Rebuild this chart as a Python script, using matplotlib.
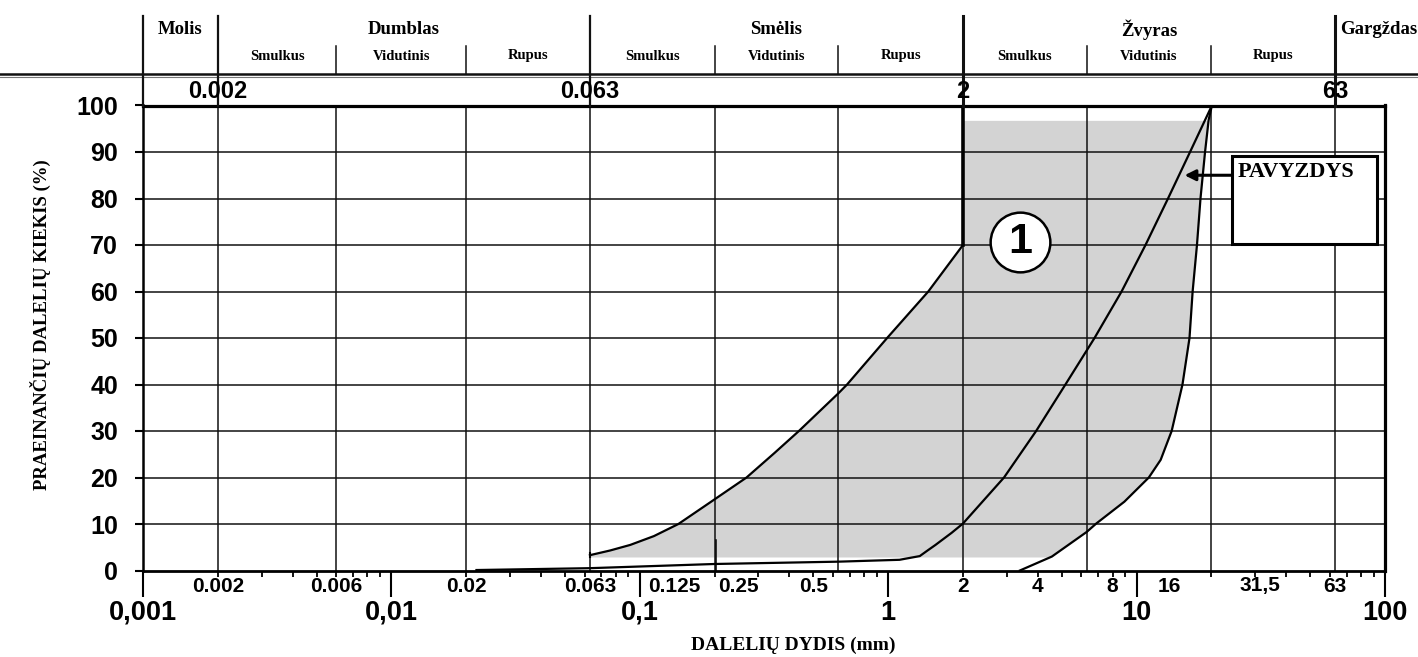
import numpy as np
import matplotlib
matplotlib.use("Agg")
import matplotlib.pyplot as plt
from matplotlib import transforms
from matplotlib.lines import Line2D
from matplotlib.patches import Rectangle
from matplotlib.ticker import FixedLocator, FixedFormatter, LogLocator, NullFormatter

# ---- data -----------------------------------------------------------
class_names = ['Molis', 'Dumblas', 'Smėlis', 'Žvyras']
class_bounds = [0.001, 0.002, 0.063, 2, 63]
sub_names = ['Smulkus', 'Vidutinis', 'Rupus']
sub_bounds = [0.002, 0.006, 0.02, 0.063, 0.2, 0.63, 2, 6.3, 20, 63]
last_class = 'Gargždas'

top_marks = [0.002, 0.063, 2, 63]
top_labels = ['0.002', '0.063', '2', '63']

major_ticks = [0.001, 0.01, 0.1, 1, 10, 100]
major_labels = ['0,001', '0,01', '0,1', '1', '10', '100']
small_ticks = [0.002, 0.006, 0.02, 0.063, 0.125, 0.25, 0.5, 2, 4, 8, 16, 31.5, 63]
small_labels = ['0.002', '0.006', '0.02', '0.063', '0.125', '0.25', '0.5',
                '2', '4', '8', '16', '31,5', '63']
small_shift = {0.125: 10, 16: -18}   # px, labels moved off the ticks in the original

y_ticks = list(range(0, 101, 10))

# envelope (zone 1) left/upper boundary
upper_x = [0.063, 0.0759, 0.0915, 0.114, 0.143, 0.2, 0.269, 0.349, 0.437, 0.63,
           0.683, 0.99, 1.45, 2.0]
upper_y = [3.3, 4.3, 5.5, 7.4, 10, 15.3, 20, 25.3, 30, 38.1,
           40, 50, 60, 70]
# envelope right/lower boundary
lower_x = [3.39, 4.56, 6.3, 6.88, 8.93, 11.2, 12.5, 13.84, 15.3, 16.33, 16.81, 17.5,
           18.08, 18.86, 19.5, 20.1]
lower_y = [0, 3, 8.3, 10.1, 14.8, 20, 23.8, 30, 40, 50, 60, 70,
           80, 90, 96.9, 100]
# sample curve (PAVYZDYS)
sample_x = [0.022, 0.063, 0.2, 0.63, 1.11, 1.34, 1.44, 1.55, 1.80, 2.0, 2.926, 3.94,
            5.17, 6.77, 8.70, 10.86, 13.38, 16.41, 20.1]
sample_y = [0.1, 0.5, 1.4, 1.9, 2.3, 3.1, 4.3, 5.5, 8.1, 10.1, 20, 30,
            40, 50, 60, 70, 80, 90, 100]
fill_top = 96.7
fill_bottom = 2.8
fill_corner_x = 4.5     # where the shaded band meets the right curve at the bottom

zone_label = '1'
zone_pos = (3.39, 70.7)
sample_name = 'PAVYZDYS'

# ---- figure ---------------------------------------------------------
W, H = 1418, 657
fig = plt.figure(figsize=(W / 100, H / 100), dpi=100)
ax_l, ax_r, ax_t, ax_b = 143, 1385, 105.5, 570.5
ax = fig.add_axes([ax_l / W, 1 - ax_b / H, (ax_r - ax_l) / W, (ax_b - ax_t) / H])

def fy(py):
    return 1 - py / H

ink = '#111111'
serif = ['Liberation Serif', 'DejaVu Serif']
sans = ['Liberation Sans', 'DejaVu Sans']

ax.set_xscale('log')
ax.set_xlim(0.001, 100)
ax.set_ylim(0, 100)

# shaded zone
fx = [upper_x[0]] + upper_x + [upper_x[-1]]
fyv = [fill_bottom] + upper_y + [fill_top]
for x, y in zip(lower_x[::-1], lower_y[::-1]):
    if fill_bottom <= y <= fill_top + 0.5:
        fx.append(x)
        fyv.append(min(y, fill_top))
fx.append(fill_corner_x)
fyv.append(fill_bottom)
ax.fill(fx, fyv, color='#d3d3d3', lw=0, zorder=1)

# grid
for v in sub_bounds:
    ax.axvline(v, color=ink, lw=1.1, zorder=2)
for v in y_ticks[1:-1]:
    ax.axhline(v, color=ink, lw=1.1, zorder=2)

# curves
ax.plot(upper_x, upper_y, color='black', lw=1.6, zorder=4, solid_joinstyle='round')
ax.plot(lower_x, lower_y, color='black', lw=1.6, zorder=4, solid_joinstyle='round')
ax.plot(sample_x, sample_y, color='black', lw=1.6, zorder=4, solid_joinstyle='round')
ax.plot([upper_x[-1], upper_x[-1]], [upper_y[-1], 100], color='black', lw=2.6, zorder=4)
ax.plot([upper_x[0], upper_x[0]], [fill_bottom, upper_y[0] + 0.5], color='black', lw=1.5, zorder=4)
ax.plot([0.203, 0.203], [0, 6.5], color='black', lw=1.1, zorder=4)

# zone marker
ax.plot([zone_pos[0]], [zone_pos[1]], marker='o', ms=43, mfc='white', mec='black',
        mew=1.8, zorder=5)
ax.text(zone_pos[0], zone_pos[1], zone_label, ha='center', va='center',
        fontsize=31, fontweight='bold', family=sans, zorder=6)

# sample label box + arrow
ax.add_patch(Rectangle((24.2, 70.2), 93 - 24.2, 89.1 - 70.2, fc='white', ec='black',
                       lw=2.2, zorder=5))
ax.text(25.6, 85.8, sample_name, ha='left', va='center', fontsize=16,
        fontweight='bold', family=serif, zorder=6)
ax.annotate('', xy=(15.6, 85.0), xytext=(24.2, 85.0), zorder=6,
            arrowprops=dict(arrowstyle='-|>', lw=2.2, color='black', mutation_scale=16,
                            shrinkA=0, shrinkB=0))

# spines and ticks
for s in ['top', 'right']:
    ax.spines[s].set_linewidth(2.3)
ax.spines['left'].set_linewidth(1.8)
ax.spines['bottom'].set_linewidth(2.0)
for s in ax.spines.values():
    s.set_zorder(7)

ax.yaxis.set_major_locator(FixedLocator(y_ticks))
ax.set_yticklabels([str(v) for v in y_ticks], fontsize=18, fontweight='bold', family=sans)
ax.tick_params(axis='y', direction='out', length=6, width=1.5, pad=12)

ax.xaxis.set_major_locator(FixedLocator(major_ticks))
ax.xaxis.set_major_formatter(FixedFormatter(major_labels))
ax.xaxis.set_minor_locator(LogLocator(base=10, subs=np.arange(2, 10)))
ax.xaxis.set_minor_formatter(NullFormatter())
ax.tick_params(axis='x', which='major', direction='out', length=19, width=1.5, pad=2)
ax.tick_params(axis='x', which='minor', direction='out', length=4, width=1.3)
for lab in ax.get_xticklabels():
    lab.set_fontsize(19.5)
    lab.set_fontweight('bold')
    lab.set_family(sans)

blend = transforms.blended_transform_factory(ax.transData, fig.transFigure)

# small size labels under the axis
for v, lab in zip(small_ticks, small_labels):
    tr = transforms.offset_copy(blend, fig=fig, x=small_shift.get(v, 0), y=0, units='dots')
    fig.text(v, fy(586), lab, transform=tr, ha='center', va='center', fontsize=15,
             fontweight='bold', family=sans)

# labels above the plot
for v, lab in zip(top_marks, top_labels):
    fig.text(v, fy(91), lab, transform=blend, ha='center', va='center', fontsize=17,
             fontweight='bold', family=sans)

# ---- header table -----------------------------------------------------
fig.add_artist(Line2D([0, 1], [fy(74), fy(74)], color=ink, lw=1.8))
fig.add_artist(Line2D([0, 1], [fy(77), fy(77)], color='#777777', lw=0.8))
for v in class_bounds:
    w = 2.2 if v >= 2 else 1.6
    fig.add_artist(Line2D([v, v], [fy(16), fy(ax_t)], transform=blend, color=ink, lw=w))
for v in sub_bounds:
    if v not in class_bounds:
        fig.add_artist(Line2D([v, v], [fy(46), fy(74)], transform=blend, color=ink, lw=1.1))

for i, name in enumerate(class_names):
    c = np.sqrt(class_bounds[i] * class_bounds[i + 1])
    fig.text(c, fy(30), name, transform=blend, ha='center', va='center', fontsize=13.5,
             fontweight='bold', family=serif)
tr = transforms.offset_copy(blend, fig=fig, x=5, y=0, units='dots')
fig.text(class_bounds[-1], fy(30), last_class, transform=tr, ha='left', va='center',
         fontsize=13.5, fontweight='bold', family=serif)

for i in range(len(sub_bounds) - 1):
    c = np.sqrt(sub_bounds[i] * sub_bounds[i + 1])
    fig.text(c, fy(56), sub_names[i % 3], transform=blend, ha='center', va='center',
             fontsize=10.5, fontweight='bold', family=serif)

# axis titles
fig.text(793 / W, fy(645), 'DALELIŲ DYDIS (mm)', ha='center', va='center', fontsize=14,
         fontweight='bold', family=serif)
fig.text(40 / W, fy(325), 'PRAEINANČIŲ DALELIŲ KIEKIS (%)', ha='center', va='center',
         rotation=90, fontsize=13.5, fontweight='bold', family=serif)

fig.savefig('out.png', dpi=100)
